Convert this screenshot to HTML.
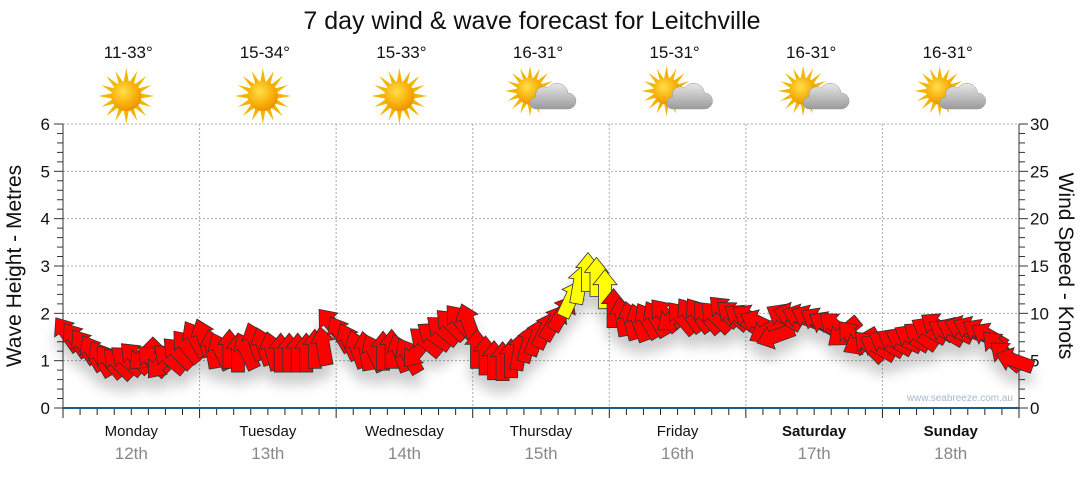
<!DOCTYPE html>
<html><head><meta charset="utf-8"><style>
body{margin:0;background:#fff;width:1080px;height:475px;overflow:hidden}
svg text{font-family:"Liberation Sans","DejaVu Sans",sans-serif}
</style></head><body>
<svg id="c" width="1080" height="475" xmlns="http://www.w3.org/2000/svg">
<defs>
<radialGradient id="sun" cx="0.4" cy="0.35" r="0.7"><stop offset="0" stop-color="#ffe04a"/><stop offset="0.7" stop-color="#f7a800"/><stop offset="1" stop-color="#e98a00"/></radialGradient>
<linearGradient id="cloud" x1="0" y1="0" x2="0" y2="1"><stop offset="0" stop-color="#e8e8e8"/><stop offset="1" stop-color="#9a9a9a"/></linearGradient>
<filter id="sh" x="-50%" y="-50%" width="200%" height="250%"><feDropShadow dx="0" dy="12" stdDeviation="6" flood-color="#000" flood-opacity="0.2"/></filter>
<g id="sunicon"><g fill="#f2b600"><polygon points="0,-28 3,-12 -3,-12"/><polygon points="0,28 3,12 -3,12"/><polygon points="-28,0 -12,3 -12,-3"/><polygon points="28,0 12,3 12,-3"/><polygon points="20,-20 10,-6 6,-10"/><polygon points="-20,-20 -10,-6 -6,-10"/><polygon points="20,20 10,6 6,10"/><polygon points="-20,20 -10,6 -6,10"/><polygon points="11,-25 7,-10 2,-12"/><polygon points="-11,-25 -7,-10 -2,-12"/><polygon points="11,25 7,10 2,12"/><polygon points="-11,25 -7,10 -2,12"/><polygon points="25,-11 10,-7 12,-2"/><polygon points="-25,-11 -10,-7 -12,-2"/><polygon points="25,11 10,7 12,2"/><polygon points="-25,11 -10,7 -12,2"/></g><circle r="15" fill="url(#sun)"/></g>
<g id="cloudicon"><path d="M-4,14 h32 a8,8 0 0 0 0,-16 a11,11 0 0 0 -20,-5 a8,8 0 0 0 -12,9 a6,6 0 0 0 0,12 z" fill="url(#cloud)" stroke="#999" stroke-width="0.5"/></g>
</defs>
<text x="532" y="29" font-size="25" text-anchor="middle" fill="#111">7 day wind &amp; wave forecast for Leitchville</text>
<g id="grid"></g><g id="axes"></g><g id="top"></g>
<g id="arrows" filter="url(#sh)"></g>
<text x="1013" y="401" font-size="10" text-anchor="end" fill="#a8b8cc">www.seabreeze.com.au</text>
<text transform="translate(21,266) rotate(-90)" font-size="21" text-anchor="middle" fill="#111">Wave Height - Metres</text>
<text transform="translate(1059,266) rotate(90)" font-size="21" text-anchor="middle" fill="#111">Wind Speed - Knots</text>
</svg>
<script>
const days=["Monday","Tuesday","Wednesday","Thursday","Friday","Saturday","Sunday"];
const dates=["12th","13th","14th","15th","16th","17th","18th"];
const temps=["11-33°","15-34°","15-33°","16-31°","15-31°","16-31°","16-31°"];
const cloudy=[0,0,0,1,1,1,1];
const boldDay=[0,0,0,0,0,1,1];
const waveTicks=[0,1,2,3,4,5,6];
const windTicks=[0,5,10,15,20,25,30];
const windSpeed=[7.8,7.2,6.5,5.8,5.2,4.9,4.7,5.0,5.3,5.6,5.0,4.8,5.2,5.8,6.5,7.3,
7.4,6.2,6.0,6.2,5.8,6.0,7.0,6.5,6.0,5.8,5.8,5.8,5.8,6.2,6.5,8.8,
7.8,7.0,6.2,6.0,5.8,6.0,6.2,5.8,5.5,6.0,7.0,7.6,8.2,8.8,9.2,9.0,
6.2,5.5,5.0,4.9,5.2,6.0,6.8,7.5,8.2,9.0,10.0,11.5,13.0,14.3,13.8,12.5,
10.5,9.6,9.2,9.0,9.2,9.4,9.8,9.6,9.5,9.8,9.8,9.6,9.6,10.2,9.8,9.5,
9.5,9.0,8.2,7.6,9.6,9.8,9.6,9.5,9.2,8.8,8.6,8.0,7.5,7.0,6.5,6.4,
6.8,7.0,7.2,7.4,7.6,8.2,8.6,8.0,8.2,8.4,8.3,8.0,7.6,6.5,5.5,5.0];
const windDir=[-35,-35,-35,-30,-30,-40,-45,-50,-45,-135,-45,-140,-50,-45,-40,-30,
-20,-10,-25,0,0,-25,-20,-20,-15,0,0,0,0,0,-10,-40,
-30,-25,-20,-10,-25,0,0,-20,-30,-140,-50,-55,-50,-45,-40,-20,
0,0,0,0,0,10,15,20,25,30,30,25,10,0,0,0,
0,-10,-15,-20,-30,-30,-40,-130,-40,-35,-35,-40,-45,-45,-50,-55,
-60,-65,-120,-110,-60,-75,-70,-65,-60,-60,-50,-130,-40,-120,-45,-60,
-60,-60,-65,-60,-55,-60,-55,-60,-65,-70,-65,-60,-60,-45,-50,-70];
const X0=63,X1=1019,Y0=408,Y1=124,DW=(X1-X0)/7;
const yW=v=>Y0-(v/6)*(Y0-Y1), yK=v=>Y0-(v/30)*(Y0-Y1);
const xT=i=>X0+(i+0.5)*DW/16;
const NS="http://www.w3.org/2000/svg";
function mk(p,t,a){const e=document.createElementNS(NS,t);for(const k in a)e.setAttribute(k,a[k]);p.appendChild(e);return e;}
const G=document.getElementById('grid'),A=document.getElementById('axes'),T=document.getElementById('top'),W=document.getElementById('arrows');
waveTicks.forEach(v=>{if(v>0){const l=mk(G,'line',{x1:X0,x2:X1,y1:yW(v),y2:yW(v),stroke:'#aaa','stroke-dasharray':'2,2'});

}
const t=mk(A,'text',{x:50,y:yW(v)+6,'font-size':17,'text-anchor':'end',fill:'#111'});t.textContent=v;

});
for(let m=0;m<=30;m++){const y=Y0-m*(Y0-Y1)/30;mk(A,'line',{x1:m%5?57:54,x2:X0,y1:y,y2:y,stroke:'#333'});}
for(let m=0;m<=30;m++){const y=yK(m);mk(A,'line',{x1:X1,x2:m%5?X1+6:X1+9,y1:y,y2:y,stroke:'#333'});}
windTicks.forEach(v=>{const t=mk(A,'text',{x:1030,y:yK(v)+6,'font-size':17,fill:'#111'});t.textContent=v;

});
mk(A,'line',{x1:X0,x2:X0,y1:Y1,y2:Y0,stroke:'#333'});
mk(A,'line',{x1:X1,x2:X1,y1:Y1,y2:Y0,stroke:'#333'});
for(let d=1;d<7;d++){const x=X0+d*DW;mk(G,'line',{x1:x,x2:x,y1:Y1,y2:Y0,stroke:'#aaa','stroke-dasharray':'2,2'});}
for(let h=0;h<=56;h++){const x=X0+h*DW/8;mk(A,'line',{x1:x,x2:x,y1:Y0,y2:Y0+(h%8?7:10),stroke:'#222'});}
mk(A,'line',{x1:X0,x2:X1,y1:Y0,y2:Y0,stroke:'#1d5a86','stroke-width':2});
days.forEach((d,i)=>{const cx=X0+(i+0.5)*DW;
const t=mk(A,'text',{x:cx,y:436,'font-size':15,'text-anchor':'middle',fill:'#111','font-weight':boldDay[i]?'bold':'normal'});t.textContent=d;


const t2=mk(A,'text',{x:cx,y:459,'font-size':17,'text-anchor':'middle',fill:'#888'});t2.textContent=dates[i];


const t3=mk(T,'text',{x:cx-3,y:58,'font-size':17,'text-anchor':'middle',fill:'#111'});t3.textContent=temps[i];


const g=mk(T,'g',{transform:`translate(${cx-5},${cloudy[i]?95:96})`});


mk(g,'use',{href:'#sunicon',transform:cloudy[i]?'translate(-6,-4) scale(0.9)':''});
if(cloudy[i])mk(g,'use',{href:'#cloudicon',transform:'translate(4,0)'});
});
const AR="M0,-20 L12,-5 L6.5,-5 L6.5,19 L-6.5,19 L-6.5,-5 L-12,-5 Z";
windSpeed.forEach((v,i)=>{const p=mk(W,'path',{d:AR,transform:`translate(${xT(i)},${yK(v)}) rotate(${windDir[i]})`,fill:v>=11?'#ffff00':'#ff0000',stroke:'#333','stroke-width':0.8});

});
</script>
</body></html>
